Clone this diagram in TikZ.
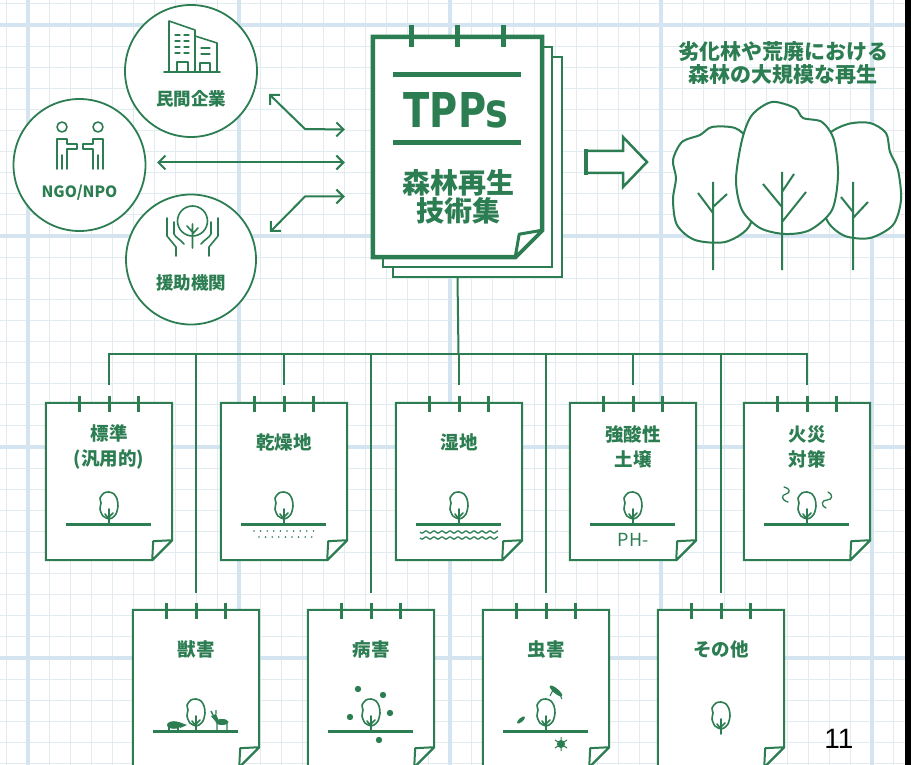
\documentclass[tikz,border=0pt]{standalone}
\usepackage{fontspec}
\usepackage{graphicx}
\usepackage{tikz}
\usetikzlibrary{arrows.meta, positioning}
\newfontfamily\jpfont{Noto Sans CJK JP}
\newfontfamily\tppsfont{DejaVu Sans}
\newfontfamily\pagefont{Liberation Sans}
\definecolor{TPgreen}{RGB}{44,125,82}
\definecolor{TPgrid}{RGB}{226,236,240}
\definecolor{TPgridmajor}{RGB}{212,229,241}

\tikzset{
  gridminor/.style={TPgrid, line width=0.9pt},
  gridmajor/.style={TPgridmajor, line width=3.5pt},
  partner/.style={circle, draw=TPgreen, fill=white, line width=1.8pt, minimum size=132pt, inner sep=0pt},
  partnername/.style={text=TPgreen, font=\jpfont\bfseries\fontsize{17.5}{19}\selectfont},
  docsheet/.style={minimum width=169pt, minimum height=220pt, inner sep=0pt},
  sheet/.style={docsheet, draw=TPgreen, fill=white, line width=2pt},
  cardbox/.style={minimum width=126pt, minimum height=157pt, inner sep=0pt},
  cardline/.style={draw=TPgreen, fill=white, line width=2pt},
  cardtitle/.style={text=TPgreen, font=\jpfont\bfseries\fontsize{18.5}{25}\selectfont, align=center},
  tick/.style={TPgreen, line width=3pt},
  feed/.style={TPgreen, line width=2pt},
  ground/.style={TPgreen, line width=3pt},
  link/.style={TPgreen, line width=2pt, >={Straight Barb[length=7pt,width=14pt]}, <->},
  icon/.style={TPgreen, line width=1.6pt, line cap=round, line join=round},
  crown/.style={TPgreen, line width=2pt, fill=white},
  sapling/.pic={
    \draw[icon, fill=white] plot[smooth cycle] coordinates {(0,-5) (-6,-8) (-9,-15) (-8,-21) (-9,-26) (-5,-31) (0,-32) (5,-30) (8,-25) (9,-18) (7,-10) (3,-6)};
    \draw[icon] (0,0) -- (0,-15) (0,-5) -- (-4,-10) (0,-7) -- (4,-11);
  }
}

\begin{document}
\begin{tikzpicture}[x=1pt, y=-1pt]
\useasboundingbox (0,0) rectangle (911,765);
\clip (0,0) rectangle (911,765);
\fill[white] (0,0) rectangle (911,765);
\foreach \k in {-1,...,42}
  \draw[gridminor] ({28+21.1*\k},0) -- ({28+21.1*\k},765);
\foreach \k in {-1,...,36}
  \draw[gridminor] (0,{25+21.1*\k}) -- (911,{25+21.1*\k});
\foreach \k in {0,...,4}
  \draw[gridmajor] ({28+211*\k},0) -- ({28+211*\k},765);
\foreach \k in {0,...,3}
  \draw[gridmajor] (0,{25+211*\k}) -- (911,{25+211*\k});

% partners
\node[partner] (biz) at (191,71) {};
\node[partner] (ngo) at (79.5,165) {};
\node[partner, minimum size=130pt] (aid) at (191,259.5) {};
\node[partnername] (biz-name) at (191,99) {民間企業};
\node[partnername, font=\jpfont\bfseries\fontsize{15.5}{18}\selectfont] (ngo-name) at (79.5,193) {NGO/NPO};
\node[partnername] (aid-name) at (191,283) {援助機関};

\draw[icon] (164,72) -- (220,72);
\draw[icon] (169,72) -- (169,21) -- (195,30) -- (195,72) (195,36) -- (217,43) -- (217,72);
\foreach \wy in {35,41,47,53}
  \draw[icon, line width=1.3pt] (175,\wy) -- ++(5,0) (184,\wy) -- ++(5,0);
\foreach \wy in {48,54}
  \draw[icon, line width=1.3pt] (201,\wy) -- ++(9,0);
\draw[icon, line width=1.3pt] (177,72) -- (177,62) -- (188,62) -- (188,72) (200,72) -- (200,63) -- (210,63) -- (210,72);

\draw[icon] (62,127) circle (5) (98,127) circle (5);
\draw[icon] (57,169) -- (57,139) -- (67,139) -- (67,144) -- (77,144) -- (77,149) -- (67,149) -- (67,169) (62,169) -- (62,155);
\draw[icon] (103,169) -- (103,139) -- (93,139) -- (93,144) -- (83,144) -- (83,149) -- (93,149) -- (93,169) (98,169) -- (98,155);

\draw[icon] (192.5,221) circle (15);
\draw[icon] (192.5,224) -- (192.5,248) (192.5,232) -- (187,226) (192.5,234) -- (198,228);
\draw[icon] (167,218) -- (167,236) -- (176,247) -- (176,256) (174,222) -- (174,234) .. controls (176,238) and (181,240) .. (184,244);
\draw[icon] (218,218) -- (218,236) -- (209,247) -- (209,256) (211,222) -- (211,234) .. controls (209,238) and (204,240) .. (201,244);

% TPPs book
\node[docsheet] (tpps) at (457.5,147) {};
\node[sheet] (back2) at (477.5,167) {};
\node[sheet] (back1) at (467.5,157) {};
\draw[TPgreen, line width=4.5pt, fill=white] (tpps.north west) -- (tpps.north east) -- ([yshift=27pt]tpps.south east)
  -- ([xshift=-27pt]tpps.south east) -- (tpps.south west) -- cycle;
\draw[TPgreen, line width=3pt, fill=white, line join=round] ([xshift=-27pt]tpps.south east)
  .. controls ([xshift=-25pt,yshift=12pt]tpps.south east) .. ([xshift=-23pt,yshift=23pt]tpps.south east)
  -- ([yshift=27pt]tpps.south east) -- cycle;
\foreach \dx in {-46,0,46}
  \draw[TPgreen, line width=5pt] ([xshift=\dx pt]tpps.north) ++(0,-12) -- ++(0,22);
\draw[TPgreen, line width=5pt] (393,75) -- (521,75) (393,143) -- (521,143);
\node[text=TPgreen, font=\tppsfont\bfseries\fontsize{48}{48}\selectfont] (tpps-name) at (456,110.5) {\scalebox{0.8}[1]{TPPs}};
\node[text=TPgreen, font=\jpfont\bfseries\fontsize{28}{27.5}\selectfont, align=center] (tpps-book) at (458,197) {森林再生\\技術集};

\coordinate (biz-in) at ([shift={(78,23)}]biz.center);
\coordinate (ngo-in) at ([shift={(77.5,-2.5)}]ngo.center);
\coordinate (aid-in) at ([shift={(79,-27.5)}]aid.center);
\coordinate (doc-a) at ([shift={(-28,-17.5)}]tpps.west);
\coordinate (doc-b) at ([shift={(-28,15.5)}]tpps.west);
\coordinate (doc-c) at ([shift={(-28,49.5)}]tpps.west);
\draw[link] (biz-in) -- ++(36,35) -- (doc-a);
\draw[link] (ngo-in) -- (doc-b);
\draw[link] (aid-in) -- ++(35,-35.5) -- (doc-c);

% result
\draw[TPgreen, line width=2.5pt, fill=white] (586,151) -- (623,151) -- (623,137) -- (647,162) -- (623,187) -- (623,173) -- (586,173) -- cycle;
\draw[TPgreen, line width=4pt] (586,149) -- (586,175);
\node[text=TPgreen, font=\jpfont\bfseries\fontsize{21}{23}\selectfont, align=center] (goal) at (783,63.5) {劣化林や荒廃における\\森林の大規模な再生};

\draw[crown] plot[smooth cycle] coordinates {(673,200) (676,178) (673,160) (682,142) (700,135) (712,127) (735,128) (748,140) (755,165) (757,200) (748,228) (725,242) (695,240) (677,225)};
\draw[TPgreen, line width=2pt] (713,182) -- (713,270) (713,213) -- (698,193) (713,207) -- (727,194);
\draw[crown] plot[smooth cycle] coordinates {(822,160) (828,135) (848,124) (870,123) (886,133) (890,152) (898,170) (901,200) (893,225) (870,238) (845,236) (828,222) (820,195)};
\draw[TPgreen, line width=2pt] (853,182) -- (853,270) (853,212) -- (841,197) (853,218) -- (868,202);
\draw[crown] plot[smooth cycle] coordinates {(736,180) (742,140) (752,115) (772,102) (795,108) (803,118) (822,122) (834,140) (838,175) (832,210) (810,230) (785,234) (760,228) (742,210)};
\draw[TPgreen, line width=2pt] (782,172) -- (782,270) (782,207) -- (763,184) (782,192) -- (794,174) (782,222) -- (806,192);

% technique sheets
\foreach \cx/\cy/\nm/\dy/\txt in {
  109/481.5/std/44.5/{標準\\(汎用的)},
  284/481.5/dry/40/乾燥地,
  459/481.5/wet/40/湿地,
  633/481.5/acid/44.5/{強酸性\\土壌},
  807/481.5/fire/44.5/{火災\\対策},
  196/688.5/beast/40/獣害,
  371/688.5/sick/40/病害,
  546/688.5/bug/40/虫害,
  721/688.5/other/40/その他}{
  \node[cardbox] (\nm) at (\cx,\cy) {};
  \draw[cardline] (\nm.north west) -- (\nm.north east) -- ([yshift=20pt]\nm.south east)
    -- ([xshift=-20pt]\nm.south east) -- (\nm.south west) -- cycle;
  \draw[cardline, line join=round] ([xshift=-20pt]\nm.south east)
    .. controls ([xshift=-20pt,yshift=10pt]\nm.south east) .. ([xshift=-19pt,yshift=19pt]\nm.south east)
    .. controls ([xshift=-10pt,yshift=20pt]\nm.south east) .. ([yshift=20pt]\nm.south east) -- cycle;
  \foreach \dx in {-30,0,29}
    \draw[tick] ([xshift=\dx pt, yshift=7pt]\nm.north) -- ++(0,16);
  \node[cardtitle] (\nm-title) at ([yshift=-\dy pt]\nm.north) {\txt};
}

\coordinate (bus) at (458.5,354);
\draw[feed] (tpps.south |- back2.south) -- (bus);
\foreach \nm in {std,dry,wet,acid,fire}
  \draw[feed, shorten <=18pt] (\nm.north) |- (bus);
\foreach \nm in {beast,sick,bug,other}
  \draw[feed, shorten <=17pt] (\nm.north) |- (bus);

\foreach \gx in {109,284,459,633,807}{
  \draw[ground] ({\gx-43},524) -- ({\gx+42},524);
  \pic at (\gx,524) {sapling};
}
\foreach \gx in {196,371,546}{
  \draw[ground] ({\gx-43},731) -- ({\gx+42},731);
  \pic at (\gx,731) {sapling};
}
\pic at (721,734) {sapling};

\foreach \k in {0,...,9}
  \fill[TPgreen] ({254+6.6*\k},531) circle (0.9);
\foreach \k in {0,...,8}
  \fill[TPgreen] ({259+6.6*\k},537) circle (0.9);
\foreach \wy in {532,538}
  \draw[TPgreen, line width=1.3pt] plot[domain=0:78, samples=70] ({420+\x},{\wy+1.1*sin(\x*45)});
\node[text=TPgreen, font=\jpfont\fontsize{18}{20}\selectfont] (acid-ph) at (633,540) {PH-};
\draw[icon, line width=1.3pt] (788,502) .. controls (781,500) and (781,495) .. (786,494) .. controls (791,493) and (790,488) .. (784,487);
\draw[icon, line width=1.3pt] (826,508) .. controls (820,505) and (822,500) .. (827,500) .. controls (833,500) and (833,494) .. (828,492);

\fill[TPgreen] (174,725) ellipse (7 and 3.8);
\fill[TPgreen] (179,722) -- (187,725) -- (180,728) -- cycle;
\draw[TPgreen, line width=1.4pt] (169,727) -- (169,731) (178,727) -- (178,731);
\fill[TPgreen] (222,722) ellipse (6.5 and 3);
\fill[TPgreen] (211,716) -- (216,714) -- (219,721) -- (216,722) -- cycle;
\draw[TPgreen, line width=1.4pt] (217,722) -- (217,731) (227,722) -- (227,731) (213,715) -- (211,711) (216,714) -- (216,710);
\foreach \vx/\vy in {358/689, 383/695, 350/717, 390/713, 379/740}
  \fill[TPgreen] (\vx,\vy) circle (3.2);
\fill[TPgreen, rotate around={-40:(556,691)}] (556,691) ellipse (8 and 2.5);
\draw[TPgreen, line width=1pt] (553,690) -- (550,696) (559,693) -- (562,699);
\fill[TPgreen, rotate around={40:(521,720)}] (521,720) ellipse (5 and 2);
\fill[TPgreen] (561,744) circle (4);
\draw[TPgreen, line width=1pt] (555,740) -- (567,748) (555,748) -- (567,740) (561,737) -- (561,751);

\node[font=\pagefont\fontsize{28}{28}\selectfont] (pageno) at (839,739) {11};
\fill[black] (905,0) rectangle (911,765);
\end{tikzpicture}
\end{document}
